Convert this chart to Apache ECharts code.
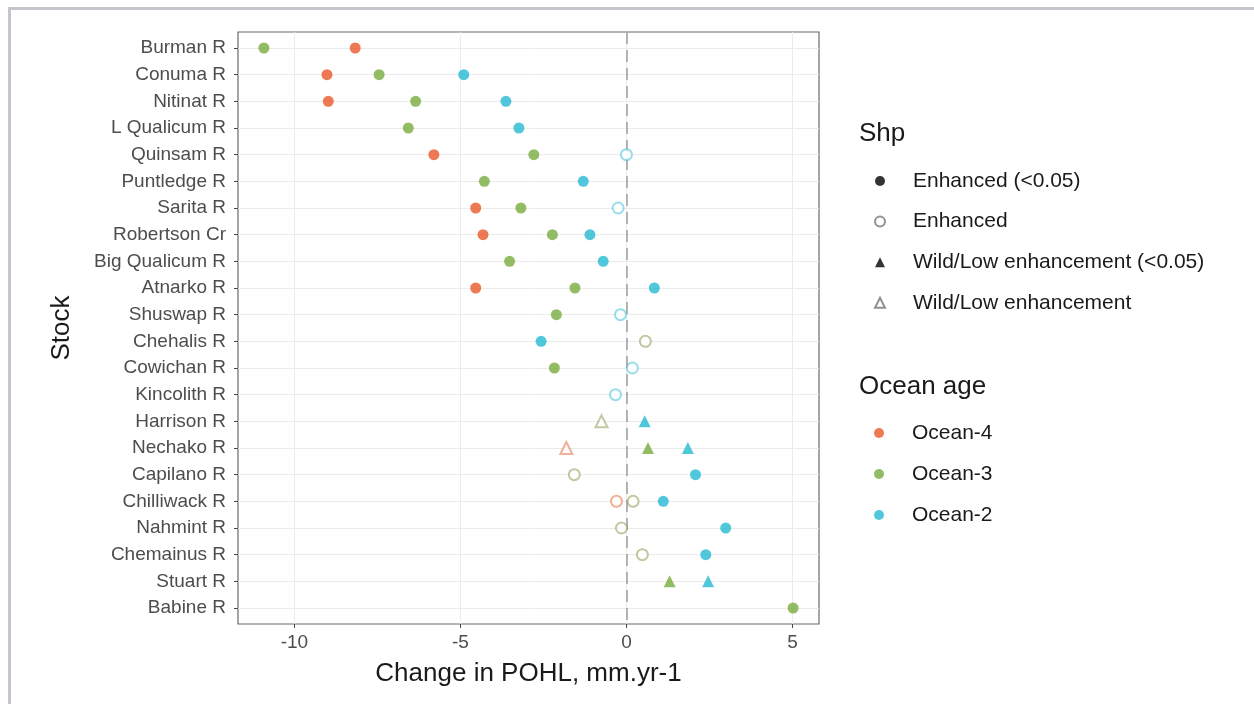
<!DOCTYPE html>
<html>
<head>
<meta charset="utf-8">
<title>Change in POHL by stock</title>
<script src="https://cdn.jsdelivr.net/npm/echarts@6/dist/echarts.min.js"></script>
<style>
  html, body { margin: 0; padding: 0; background: #fff; }
  #chart { width: 1254px; height: 704px; }
</style>
</head>
<body>
<div id="chart"></div>
<script>
var stocks = ['Burman R', 'Conuma R', 'Nitinat R', 'L Qualicum R', 'Quinsam R', 'Puntledge R',
  'Sarita R', 'Robertson Cr', 'Big Qualicum R', 'Atnarko R', 'Shuswap R', 'Chehalis R',
  'Cowichan R', 'Kincolith R', 'Harrison R', 'Nechako R', 'Capilano R', 'Chilliwack R',
  'Nahmint R', 'Chemainus R', 'Stuart R', 'Babine R']

// change in POHL per stock, one array per ocean age (null = no estimate)
var ocean4 = [-8.17, -9.02, -8.98, null, -5.8, null, -4.54, -4.32, null, -4.54, null, null,
  null, null, null, -1.81, null, -0.3, null, null, null, null]
var ocean3 = [-10.92, -7.45, -6.35, -6.57, -2.79, -4.28, -3.18, -2.23, -3.52, -1.55, -2.11, 0.57,
  -2.17, null, -0.75, 0.65, -1.57, 0.2, -0.15, 0.48, 1.3, 5.02]
var ocean2 = [null, -4.9, -3.63, -3.24, 0.0, -1.3, -0.25, -1.1, -0.7, 0.84, -0.18, -2.57,
  0.18, -0.33, 0.55, 1.85, 2.08, 1.11, 2.99, 2.39, 2.46, null]

// Shp: E = Enhanced (<0.05), e = Enhanced, W = Wild/Low (<0.05), w = Wild/Low
var ocean4Shp = ['E', 'E', 'E', null, 'E', null, 'E', 'E', null, 'E', null, null,
  null, null, null, 'w', null, 'e', null, null, null, null]
var ocean3Shp = ['E', 'E', 'E', 'E', 'E', 'E', 'E', 'E', 'E', 'E', 'E', 'e',
  'E', null, 'w', 'W', 'e', 'e', 'e', 'e', 'W', 'E']
var ocean2Shp = [null, 'E', 'E', 'E', 'e', 'E', 'e', 'E', 'E', 'E', 'e', 'E',
  'e', 'e', 'W', 'W', 'E', 'E', 'E', 'E', 'W', null]

var shpNames = ['Enhanced (<0.05)', 'Enhanced', 'Wild/Low enhancement (<0.05)', 'Wild/Low enhancement']
var ageNames = ['Ocean-4', 'Ocean-3', 'Ocean-2']
var xTicks = [-10, -5, 0, 5]

var font = 'Liberation Sans, Arial, Helvetica, sans-serif'
var ageColors = { 'Ocean-4': '#e8572a', 'Ocean-3': '#77ad3f', 'Ocean-2': '#25b9d3' }
var ageFaded = { 'Ocean-4': 'rgba(232,87,42,0.6)', 'Ocean-3': 'rgba(130,140,60,0.6)', 'Ocean-2': 'rgba(37,185,211,0.6)' }
var shpSymbol = { E: 'circle', e: 'emptyCircle', W: 'triangle', w: 'emptyTriangle' }
var shpCodes = ['E', 'e', 'W', 'w']

// row positions on the y scale (0 = first stock)
var rows = stocks.map(function (s, i) { return i })

var chart = echarts.init(document.getElementById('chart'))

var series = []

// horizontal grid lines at every stock and the dashed zero line
series.push({
  type: 'scatter',
  name: 'guides',
  data: [],
  z: 1,
  silent: true,
  markLine: {
    z: 1,
    silent: true,
    symbol: 'none',
    animation: false,
    label: { show: false },
    data: rows.map(function (r) {
      return { yAxis: r, lineStyle: { color: '#ebebeb', width: 1, type: 'solid' } }
    }).concat([{ xAxis: 0, lineStyle: { color: '#a3a3a3', width: 1.6, type: [12, 6] } }])
  }
})

function addAge(name, values, shp) {
  shpCodes.forEach(function (code) {
    var pts = []
    values.forEach(function (v, i) {
      if (v !== null && shp[i] === code) pts.push([v, rows[i]])
    })
    if (!pts.length) return
    var open = code === 'e' || code === 'w'
    series.push({
      type: 'scatter',
      name: name + ' ' + code,
      data: pts,
      z: 3,
      symbol: shpSymbol[code],
      symbolSize: code === 'W' || code === 'w' ? 12 : 11,
      itemStyle: open
        ? { color: ageFaded[name], borderWidth: 1.7 }
        : { color: ageColors[name] }
    })
  })
}
addAge('Ocean-4', ocean4, ocean4Shp)
addAge('Ocean-3', ocean3, ocean3Shp)
addAge('Ocean-2', ocean2, ocean2Shp)

// legend-only series
shpNames.forEach(function (n, i) {
  series.push({
    type: 'scatter', name: n, data: [],
    symbol: shpSymbol[shpCodes[i]],
    itemStyle: { color: i % 2 === 0 ? '#000' : '#777' }
  })
})
ageNames.forEach(function (n) {
  series.push({ type: 'scatter', name: n, data: [], symbol: 'circle', itemStyle: { color: ageColors[n] } })
})

var legendText = { fontFamily: font, fontSize: 21, color: '#1a1a1a', lineHeight: 24, padding: [0, 0, 0, 23] }
var titleText = { fontFamily: font, fontSize: 26, fontWeight: 'normal', color: '#1a1a1a' }

var option = {
  backgroundColor: '#fff',
  animation: false,
  textStyle: { fontFamily: font },
  title: [
    { text: 'Shp', left: 859, top: 121, padding: 0, textStyle: titleText },
    { text: 'Ocean age', left: 859, top: 374, padding: 0, textStyle: titleText }
  ],
  legend: [
    {
      orient: 'vertical', left: 874, top: 169, padding: 0,
      itemWidth: 10, itemHeight: 10, itemGap: 16.6,
      selectedMode: false,
      data: shpNames.map(function (n, i) { return { name: n, icon: shpSymbol[shpCodes[i]] } }),
      textStyle: legendText
    },
    {
      orient: 'vertical', left: 874, top: 421, padding: 0,
      itemWidth: 10, itemHeight: 10, itemGap: 17,
      selectedMode: false,
      data: ageNames.map(function (n) { return { name: n, icon: 'circle' } }),
      textStyle: legendText
    }
  ],
  grid: {
    left: 238, right: 435, top: 32, bottom: 80,
    show: true, backgroundColor: '#fff', borderColor: '#6b6b6b', borderWidth: 1.2
  },
  xAxis: {
    type: 'value',
    min: -11.7,
    max: 5.8,
    splitNumber: 3,
    name: 'Change in POHL, mm.yr-1',
    nameLocation: 'middle',
    nameGap: 37,
    nameTextStyle: { fontFamily: font, fontSize: 26, color: '#1a1a1a' },
    axisLine: { show: false, onZero: false },
    axisTick: { show: true, length: 4, customValues: xTicks, lineStyle: { color: '#444' } },
    axisLabel: { customValues: xTicks, margin: 9, fontSize: 19, color: '#4d4d4d', fontFamily: font },
    splitLine: { show: true, lineStyle: { color: '#ebebeb', width: 1 } }
  },
  yAxis: {
    type: 'value',
    inverse: true,
    min: -0.6,
    max: 21.6,
    name: 'Stock',
    nameLocation: 'middle',
    nameRotate: 90,
    nameGap: 163,
    nameTextStyle: { fontFamily: font, fontSize: 26, color: '#1a1a1a' },
    axisLine: { show: false, onZero: false },
    axisTick: { show: true, length: 4, customValues: rows, lineStyle: { color: '#444' } },
    axisLabel: {
      customValues: rows, margin: 12, fontSize: 19, color: '#4d4d4d', fontFamily: font,
      formatter: function (v) { return stocks[v] }
    },
    splitLine: { show: false }
  },
  graphic: [
    { type: 'line', silent: true, shape: { x1: 8, y1: 8.5, x2: 1254, y2: 8.5 }, style: { stroke: '#c6c4cc', lineWidth: 3 } },
    { type: 'line', silent: true, shape: { x1: 9.5, y1: 7, x2: 9.5, y2: 704 }, style: { stroke: '#c6c4cc', lineWidth: 3 } }
  ],
  series: series
}

option && chart.setOption(option)
</script>
</body>
</html>
